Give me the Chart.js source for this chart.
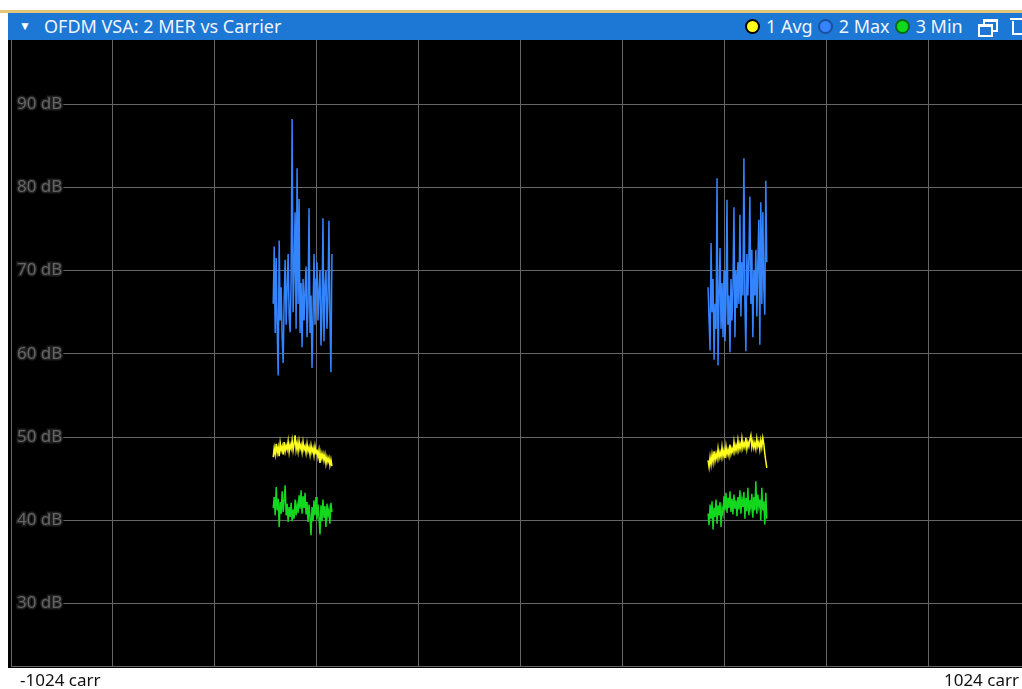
<!DOCTYPE html>
<html>
<head>
<meta charset="utf-8">
<script src="https://cdn.jsdelivr.net/npm/chart.js@4.4.0/dist/chart.umd.min.js"></script>
<style>
  body { margin: 0; width: 1022px; height: 689px; overflow: hidden; background: #fff; position: relative; font-family: "Noto Sans", sans-serif; }
  #topline { position: absolute; left: 0; top: 10px; width: 1022px; height: 3px; background: #e4c67a; }
  #titlebar { position: absolute; left: 8px; top: 13px; width: 1014px; height: 27px; background: #1d77d4; color: #eef4fb; font-size: 18px; line-height: 27px; }
  #titlebar .chev { position: absolute; left: 11px; top: -1px; font-size: 12px; color: #fff; }
  #titlebar .name { position: absolute; left: 36px; top: 0; }
  #legend { position: absolute; left: 737px; top: 0; display: flex; align-items: center; height: 27px; }
  #legend .dot { width: 11px; height: 11px; border-radius: 50%; border: 2px solid #000; margin-right: 6px; }
  #legend .lbl { margin-right: 5px; }
  .win1, .win2 { position: absolute; width: 11px; height: 8px; border: 2px solid #fff; border-top-width: 3px; }
  .win1 { left: 975px; top: 6px; }
  .win2 { left: 970px; top: 11px; background: #1d77d4; }
  .trash { position: absolute; left: 1004px; top: 8px; width: 10px; height: 12px; border: 2px solid #fff; border-top: 0; }
  .trash:before { content: ""; position: absolute; left: -4px; top: -3px; width: 18px; height: 2px; background: #fff; }
  #plotbg { position: absolute; left: 8px; top: 40px; width: 1040px; height: 628px; background: #000; }
  #wrap { position: absolute; left: 0; top: 40px; width: 1040px; height: 629px; }
  .xl { position: absolute; top: 668px; font-size: 17px; color: #111; }
</style>
</head>
<body>
<div id="topline"></div>
<div id="titlebar">
  <span class="chev">&#9660;</span>
  <span class="name">OFDM VSA: 2 MER vs Carrier</span>
  <div id="legend"></div>
  <div class="win1"></div><div class="win2"></div>
  <div class="trash"></div>
</div>
<div id="plotbg"></div>
<div id="wrap"><canvas id="chart"></canvas></div>
<div class="xl" id="xmin" style="left:20px;"></div>
<div class="xl" id="xmax" style="right:3px;"></div>
<script>
// x axis: carrier index
const xMin = -1024;
const xMax = 1024;
const xUnit = 'carr';
const xGrid = [-1024, -819.2, -614.4, -409.6, -204.8, 0, 204.8, 409.6, 614.4, 819.2, 1024];

// y axis: MER in dB
const yMin = 22.5;
const yMax = 97.7;
const yTicks = [30, 40, 50, 60, 70, 80, 90];

// occupied carriers (two blocks)
const leftCarriers = [-497, -495, -493, -491, -489, -487, -485, -483, -481, -479,
  -477, -475, -473, -471, -469, -467, -465, -463, -461, -459,
  -457, -455, -453, -451, -449, -447, -445, -443, -441, -439,
  -437, -435, -433, -431, -429, -427, -425, -423, -421, -419,
  -417, -415, -413, -411, -409, -407, -405, -403, -401, -399,
  -397, -395, -393, -391, -389, -387, -385, -383, -381, -379];
const rightCarriers = [377, 379, 381, 383, 385, 387, 389, 391, 393, 395,
  397, 399, 401, 403, 405, 407, 409, 411, 413, 415,
  417, 419, 421, 423, 425, 427, 429, 431, 433, 435,
  437, 439, 441, 443, 445, 447, 449, 451, 453, 455,
  457, 459, 461, 463, 465, 467, 469, 471, 473, 475,
  477, 479, 481, 483, 485, 487, 489, 491, 493, 495];

const traceNames = ['1 Avg', '2 Max', '3 Min'];
const traceColors = ['#ffff1e', '#3584ff', '#14d81e'];
const dotBorders = ['#000', '#1c4f9c', '#0b6a10'];

// trace 1: Avg
const avgLeft = [47.6, 48.7, 47.9, 49.2, 48.1, 48.8, 47.7, 49.3, 48.4, 48.9,
  47.9, 49.4, 48.3, 49.0, 48.5, 49.5, 48.2, 49.1, 48.6, 49.6,
  48.4, 49.2, 50.2, 48.5, 49.3, 48.3, 49.5, 48.6, 49.1, 48.2,
  49.4, 48.5, 48.9, 48.1, 49.2, 48.3, 48.8, 47.9, 49.0, 48.2,
  48.7, 47.8, 48.9, 48.0, 48.5, 47.6, 48.4, 46.9, 48.1, 47.4,
  48.0, 47.2, 47.9, 46.8, 47.6, 47.0, 47.5, 46.6, 47.3, 46.5];
const avgRight = [47.2, 46.4, 47.6, 46.7, 47.9, 47.0, 48.3, 47.2, 48.0, 47.4,
  48.6, 47.5, 48.2, 47.6, 48.8, 47.7, 48.4, 47.5, 48.9, 47.9,
  48.5, 47.8, 49.1, 48.0, 48.6, 48.2, 49.4, 48.3, 49.0, 48.4,
  49.6, 48.5, 49.2, 48.6, 49.8, 48.7, 49.3, 48.8, 49.9, 48.6,
  49.4, 48.9, 49.7, 50.2, 48.8, 49.5, 48.7, 49.3, 48.6, 49.8,
  48.9, 49.4, 48.5, 49.6, 48.8, 49.9, 49.2, 48.0, 47.1, 46.3];

// trace 2: Max
const maxLeft = [66, 72.9, 62.5, 71.5, 63, 57.4, 73.6, 64, 68, 62,
  58.9, 66.5, 71.3, 63.5, 68, 72, 64.5, 62.6, 69, 88.2,
  65, 70, 77, 63, 82.3, 66, 78.6, 62.5, 68.5, 60.8,
  69, 64, 67.5, 70.5, 62, 66, 77.5, 62.5, 67, 58.3,
  64.5, 72, 63.5, 69, 71, 64, 67.5, 70, 61, 65,
  76.3, 61.5, 68, 70, 63, 66.5, 76, 64.5, 57.8, 72];
const maxRight = [68, 64, 60.4, 73.3, 65, 69, 59.3, 66, 63, 81.1,
  58.6, 67, 72.7, 63, 68.5, 62, 70, 61.5, 66, 78.5,
  63.5, 67, 60.2, 69, 64, 68, 77.6, 62, 70, 65.5,
  71, 66, 76.7, 64.5, 71, 67, 83.5, 66, 60.3, 72,
  67, 71.5, 78.9, 66, 72.5, 62, 70, 67, 72.5, 64.5,
  71, 76.1, 61.1, 78.2, 66, 77, 68, 64.7, 80.8, 71];

// trace 3: Min
const minLeft = [41.5, 42.8, 40.6, 44.0, 41.2, 42.6, 39.2, 42.2, 40.8, 43.5,
  41.0, 42.4, 44.2, 40.6, 42.0, 39.8, 41.6, 40.4, 42.1, 39.9,
  41.3, 40.2, 42.5, 40.6, 41.8, 40.9, 43.0, 41.4, 43.6, 40.8,
  42.9, 41.5, 43.3, 40.7, 42.2, 39.8, 41.9, 40.3, 38.2, 41.6,
  39.9, 42.4, 40.6, 42.8, 40.1, 41.9, 40.4, 38.3, 41.8, 39.9,
  42.5, 40.3, 41.7, 39.2, 42.0, 40.6, 41.3, 39.6, 42.1, 41.0];
const minRight = [40.8, 39.4, 41.9, 40.2, 42.3, 38.9, 41.5, 40.4, 42.5, 39.6,
  41.8, 40.6, 42.2, 39.2, 41.4, 40.8, 42.9, 41.2, 43.3, 40.9,
  42.7, 41.5, 43.5, 41.0, 42.6, 40.7, 43.1, 41.4, 42.4, 40.5,
  42.8, 41.3, 43.6, 40.8, 42.5, 41.6, 43.4, 40.2, 42.7, 41.1,
  43.9, 40.6, 42.4, 41.5, 43.2, 40.3, 42.8, 41.2, 44.7, 40.8,
  43.1, 41.7, 42.5, 40.0, 43.9, 41.2, 42.3, 39.5, 43.3, 40.2];

// two blocks joined with a gap so the line breaks between them
function trace(leftVals, rightVals) {
  const pts = leftCarriers.map((c, i) => ({ x: c, y: leftVals[i] }));
  pts.push({ x: 0, y: null });
  return pts.concat(rightCarriers.map((c, i) => ({ x: c, y: rightVals[i] })));
}

// legend in the title bar
const legend = document.getElementById('legend');
traceNames.forEach((n, i) => {
  legend.innerHTML += '<span class="dot" style="background:' + traceColors[i] +
    ';border-color:' + dotBorders[i] + '"></span><span class="lbl">' + n + '</span>';
});
document.getElementById('xmin').textContent = xMin + ' ' + xUnit;
document.getElementById('xmax').textContent = xMax + ' ' + xUnit;

const gridColor = '#666666';

// axes take no room: labels sit inside the plot
function noRoom(axis) {
  if (axis.isHorizontal()) axis.height = 0; else axis.width = 0;
  axis.paddingTop = 0; axis.paddingBottom = 0;
  axis.paddingLeft = 0; axis.paddingRight = 0;
}

new Chart(document.getElementById('chart'), {
  type: 'line',
  data: {
    datasets: [
      { label: traceNames[0], data: trace(avgLeft, avgRight), borderColor: traceColors[0] },
      { label: traceNames[1], data: trace(maxLeft, maxRight), borderColor: traceColors[1] },
      { label: traceNames[2], data: trace(minLeft, minRight), borderColor: traceColors[2] }
    ]
  },
  options: {
    responsive: true,
    maintainAspectRatio: false,
    animation: false,
    layout: { padding: { left: 11, right: 10, top: 0, bottom: 3 } },
    elements: {
      line: { borderWidth: 1.5, tension: 0 },
      point: { radius: 0 }
    },
    plugins: { legend: { display: false }, tooltip: { enabled: false } },
    scales: {
      x: {
        type: 'linear',
        min: xMin,
        max: xMax,
        afterBuildTicks: axis => { axis.ticks = xGrid.map(v => ({ value: v })); },
        afterFit: noRoom,
        ticks: { display: false },
        grid: { color: gridColor, lineWidth: 1, drawTicks: false },
        border: { color: gridColor }
      },
      y: {
        min: yMin,
        max: yMax,
        afterBuildTicks: axis => { axis.ticks = yTicks.map(v => ({ value: v })); },
        afterFit: noRoom,
        grid: { color: gridColor, lineWidth: 1, drawTicks: false },
        border: { color: gridColor },
        ticks: {
          mirror: true,
          padding: 6,
          color: '#646464',
          font: { family: 'Noto Sans', size: 17 },
          textStrokeColor: 'rgba(70,70,70,0.45)',
          textStrokeWidth: 3,
          showLabelBackdrop: true,
          backdropColor: '#000',
          backdropPadding: { left: 5, right: 1, top: 2, bottom: 2 },
          callback: v => v + ' dB'
        }
      }
    }
  }
});
</script>
</body>
</html>
